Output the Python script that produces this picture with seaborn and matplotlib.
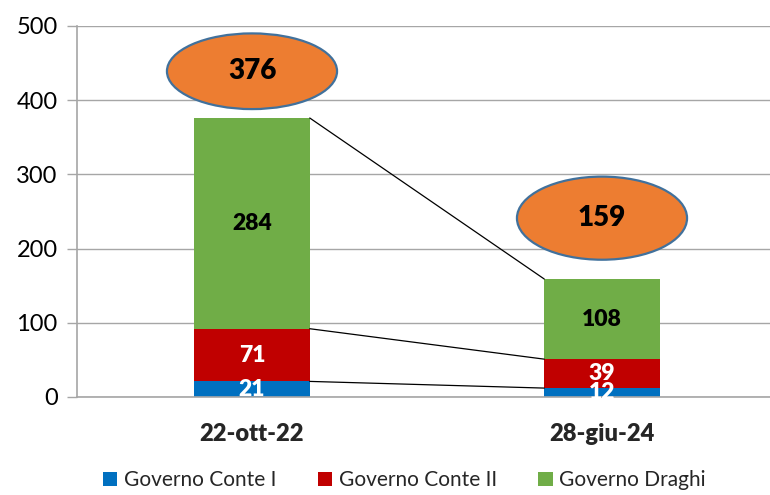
import matplotlib
matplotlib.use("Agg")
import matplotlib.pyplot as plt
from matplotlib.patches import Ellipse
import seaborn as sns
import numpy as np
import pandas as pd

categories = ["22-ott-22", "28-giu-24"]
series_names = ["Governo Conte I", "Governo Conte II", "Governo Draghi"]
conte1 = [21, 12]
conte2 = [71, 39]
draghi = [284, 108]
totals = [376, 159]
y_ticks = [0, 100, 200, 300, 400, 500]

colors = ["#0070C0", "#C00000", "#70AD47"]
label_colors = ["white", "white", "black"]

sns.set_theme(style="white")
plt.rcParams["font.family"] = ["Lato", "DejaVu Sans"]

fig = plt.figure(figsize=(7.7, 4.95), dpi=100)
ax = fig.add_axes([0.1, 0.198, 0.9, 0.7495])

bar_w = 0.33
series = [conte1, conte2, draghi]
bottom = np.zeros(len(categories))
tops = []
for name, vals, col, lc in zip(series_names, series, colors, label_colors):
    df = pd.DataFrame({"cat": categories, "val": vals})
    sns.barplot(data=df, x="cat", y="val", color=col, width=bar_w,
                bottom=bottom, ax=ax, label=name, saturation=1,
                edgecolor="none", linewidth=0, errorbar=None)
    cont = ax.containers[-1]
    ax.bar_label(cont, labels=[str(v) for v in vals], label_type="center",
                 color=lc, fontsize=16.5, fontweight="heavy")
    bottom = bottom + np.array(vals)
    tops.append(bottom.copy())

# series lines connecting segment tops
for t in tops:
    ax.plot([0 + bar_w / 2, 1 - bar_w / 2], [t[0], t[1]], color="black",
            lw=0.9, zorder=3)

# total ellipses
ell_offsets = [63, 82]
ell_heights = [102, 112]
for i, tot in enumerate(totals):
    cy = tot + ell_offsets[i]
    e = Ellipse((i, cy), width=0.486, height=ell_heights[i],
                facecolor="#ED7D31", edgecolor="#41719C", lw=1.6,
                zorder=4, clip_on=False)
    ax.add_patch(e)
    ax.text(i, cy, str(tot), ha="center", va="center", fontsize=20,
            fontweight="heavy", color="black", zorder=5)

ax.set_xlim(-0.5, 1.48)
ax.set_ylim(0, 500)
ax.set_yticks(y_ticks)
ax.yaxis.grid(True, color="#A6A6A6", lw=1)
ax.set_axisbelow(True)
for s in ["top", "right"]:
    ax.spines[s].set_visible(False)
for s in ["left", "bottom"]:
    ax.spines[s].set_color("#A6A6A6")
    ax.spines[s].set_linewidth(1.2)
ax.tick_params(axis="y", which="both", left=True, length=7, width=1,
               color="#A6A6A6", labelsize=17, pad=7, labelcolor="black")
ax.tick_params(axis="x", bottom=False, labelsize=17, pad=13)
for lbl in ax.get_xticklabels():
    lbl.set_fontweight("heavy")
ax.set_xlabel("")
ax.set_ylabel("")

handles, labels = ax.get_legend_handles_labels()
if ax.get_legend() is not None:
    ax.get_legend().remove()
fig.legend(handles, labels, loc="lower center", bbox_to_anchor=(0.525, -0.028),
           ncol=3, frameon=False, fontsize=15, handlelength=0.7,
           handleheight=0.7, handletextpad=0.3, columnspacing=2.0)

fig.savefig("out.png", dpi=100)
